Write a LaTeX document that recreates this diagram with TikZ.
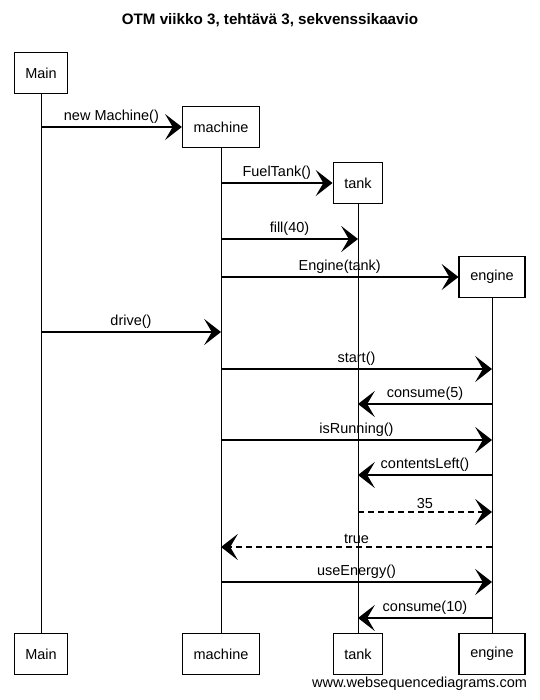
\documentclass[tikz,border=0pt]{standalone}
\usepackage{fontspec}
\setmainfont{Liberation Sans}
\usetikzlibrary{arrows.meta}

\begin{document}
\begin{tikzpicture}[x=0.025cm,y=-0.025cm,
    obj/.style={draw,line width=0.8pt,inner xsep=2.8mm,minimum height=1.03cm,font=\fontsize{10.3}{12}\selectfont},
    msg/.style={line width=1pt,-{Stealth[length=4.2mm,width=6.5mm,inset=1.9mm]}},
    reply/.style={msg,dash pattern=on 1.5mm off 1mm},
    life/.style={line width=0.6pt},
    lbl/.style={font=\fontsize{10.3}{12}\selectfont,midway,above,inner sep=2pt}]
    \useasboundingbox (0,0) rectangle (540,700);
    \node[font=\bfseries\fontsize{10.8}{13}\selectfont] (title) at (270,20) {OTM viikko 3, tehtävä 3, sekvenssikaavio};
    \node[obj] (Main) at (41,73) {Main};
    \node[obj] (machine) at (221,127) {machine};
    \node[obj] (tank) at (358,183) {tank};
    \node[obj] (engine) at (492,277) {engine};
    \foreach \o in {Main,machine,tank,engine}
        \node[obj] (\o-end) at (\o |- 0,654) {\o};
    \foreach \o in {Main,machine,tank,engine}
        \draw[life] (\o) -- (\o-end);
    \draw[msg] (Main |- machine) -- (machine) node[lbl] {new Machine()};
    \draw[msg] (machine |- tank) -- (tank) node[lbl] {FuelTank()};
    \draw[msg] (machine |- engine) -- (engine) node[lbl] {Engine(tank)};
    \foreach \st/\from/\to/\y/\txt in {msg/machine/tank/239/fill(40),
            msg/Main/machine/332/drive(), msg/machine/engine/369/start(),
            msg/engine/tank/404/consume(5), msg/machine/engine/440/isRunning(),
            msg/engine/tank/475/contentsLeft(), reply/tank/engine/512/35,
            reply/engine/machine/547/true, msg/machine/engine/582/useEnergy(),
            msg/engine/tank/618/consume(10)}
        \draw[\st] (\from |- 0,\y) -- (\to |- 0,\y) node[lbl] {\txt};
    \node[anchor=east,font=\fontsize{10.3}{12}\selectfont] (wsd) at (532,684) {www.websequencediagrams.com};
\end{tikzpicture}
\end{document}
